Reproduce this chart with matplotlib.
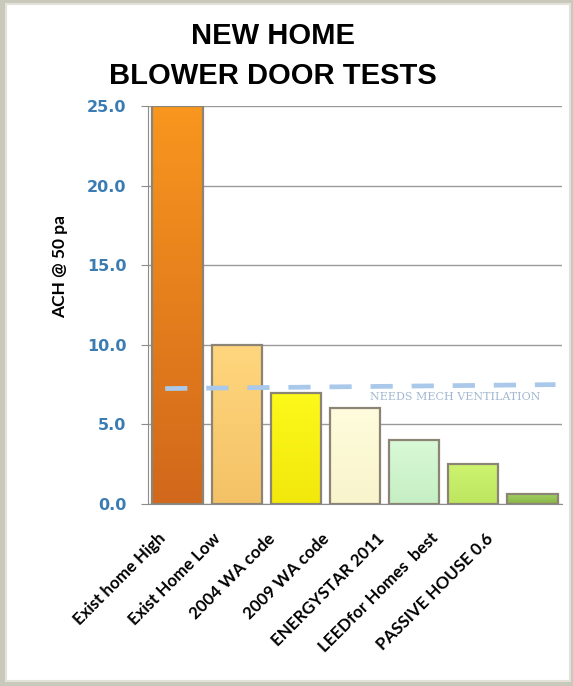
import numpy as np
import matplotlib.pyplot as plt
import matplotlib.colors as mcolors
from matplotlib.patches import Rectangle

categories = ["Exist home High", "Exist Home Low", "2004 WA code", "2009 WA code",
              "ENERGYSTAR 2011", "LEEDfor Homes  best", "PASSIVE HOUSE 0.6"]
ach = [25.0, 10.0, 7.0, 6.0, 4.0, 2.5, 0.6]
bar_top = ["#f8961f", "#ffd67e", "#fdf91a", "#fefcdc", "#d8f9d6", "#cdf36f", "#a0d060"]
bar_bottom = ["#d2681b", "#f4c266", "#f2e80c", "#f8f4cc", "#c6efc4", "#bde660", "#88b448"]
yticks = [0.0, 5.0, 10.0, 15.0, 20.0, 25.0]
vent_x = [-0.21, 6.39]
vent_y = [7.25, 7.5]

fig = plt.figure(figsize=(5.73, 6.86), dpi=100, facecolor='#c9c9bb')
# white panel inside the grey frame
fig.patches.append(Rectangle((6/573, 5/686), 1 - 9/573, 1 - 9/686, transform=fig.transFigure,
                             facecolor='white', edgecolor='#e2e2da', linewidth=1.5, zorder=-10))

ax = fig.add_axes([148/573, 1 - 504/686, 414/573, 398/686])
ax.set_facecolor('none')
idx = np.arange(len(ach))
bars = ax.bar(idx, ach, width=0.85, color='none', edgecolor='#8c8474', linewidth=1.6, zorder=3)

# vertical gradient fill inside each bar
for b, c1, c2 in zip(bars, bar_top, bar_bottom):
    cmap = mcolors.LinearSegmentedColormap.from_list('g', [c2, c1])
    grad = np.linspace(0, 1, 64).reshape(-1, 1)
    x0, w, h = b.get_x(), b.get_width(), b.get_height()
    im = ax.imshow(grad, cmap=cmap, origin='lower', aspect='auto',
                   extent=[x0, x0 + w, 0, h], zorder=2.5)
    im.set_clip_path(b)

# "needs mech ventilation" threshold
ax.plot(vent_x, vent_y, color='#a9c8ea', linewidth=3.4, dashes=(4.7, 4.0), zorder=4)
ax.text(4.69, 6.72, 'NEEDS MECH VENTILATION', fontsize=8, family='DejaVu Serif',
        color='#a2b8d2', ha='center', va='center', zorder=5)

ax.set_xlim(-0.5, len(ach) - 0.5)
ax.set_ylim(0, 25)
ax.set_yticks(yticks)
ax.set_yticklabels(['%.1f' % v for v in yticks], fontsize=11.5, fontweight='bold',
                   color='#3b7db3', family='DejaVu Sans')
ax.tick_params(axis='y', length=5, color='#8c8c8c', pad=10.5)
ax.set_xticks(idx)
ax.set_xticklabels([])
ax.tick_params(axis='x', length=0)
# category labels, slightly tighter than the bars as in the original
for i, lab in enumerate(categories):
    ax.text(-0.24 + 0.9215 * i, -0.080, lab, transform=ax.get_xaxis_transform(),
            rotation=45, ha='right', va='center', rotation_mode='anchor',
            fontsize=12.2, fontweight='bold', family='Lato')
ax.grid(axis='y', color='#9a9a9a', linewidth=1, zorder=0)
for s in ['top', 'right']:
    ax.spines[s].set_visible(False)
ax.spines['left'].set_color('#8c8c8c')
ax.spines['bottom'].set_color('#8c8c8c')

fig.text(60/573, 1 - 266/686, 'ACH @ 50 pa', rotation=90, ha='center', va='center',
         fontsize=12.5, fontweight='bold', family='Lato')
fig.text(273/573, 1 - 56/686, 'NEW HOME\nBLOWER DOOR TESTS', ha='center', va='center',
         fontsize=21, fontweight='bold', family='Liberation Sans', linespacing=1.56)

fig.savefig('out.png', dpi=100, facecolor=fig.get_facecolor())
